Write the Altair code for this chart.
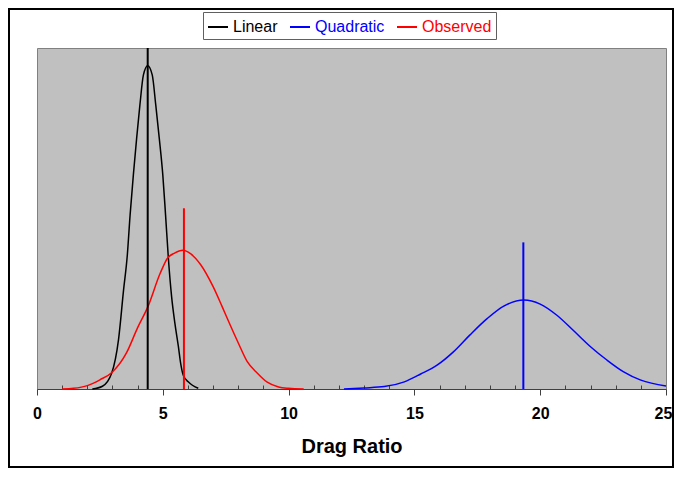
import altair as alt
import pandas as pd

series_names = ["Linear", "Quadratic", "Observed"]
series_colors = ["#000000", "#0000FF", "#FF0000"]

linear_x = [2.2, 2.6, 2.97, 3.24, 3.44, 3.59, 3.70, 3.83, 3.96, 4.09, 4.23, 4.40, 4.58, 4.72, 4.86, 5.0, 5.11, 5.22, 5.35, 5.48, 5.62, 5.71, 5.81, 6.01, 6.41]
linear_y = [0.0, 0.008, 0.047, 0.145, 0.29, 0.393, 0.51, 0.628, 0.735, 0.833, 0.921, 0.948, 0.921, 0.833, 0.735, 0.628, 0.51, 0.385, 0.271, 0.193, 0.124, 0.075, 0.041, 0.021, 0.002]

quadratic_x = [12.2, 13.0, 13.8, 14.6, 15.25, 15.9, 16.55, 17.2, 17.9, 18.55, 19.35, 20.0, 20.65, 21.3, 22.0, 22.65, 23.3, 24.0, 25.0]
quadratic_y = [0.0, 0.003, 0.007, 0.021, 0.044, 0.07, 0.109, 0.158, 0.207, 0.243, 0.261, 0.249, 0.217, 0.173, 0.124, 0.085, 0.051, 0.026, 0.009]

observed_x = [1.0, 1.45, 2.0, 2.5, 3.0, 3.55, 4.0, 4.4, 4.9, 5.2, 5.45, 5.8, 6.1, 6.5, 7.0, 7.35, 7.7, 8.0, 8.35, 8.75, 9.15, 9.6, 10.0, 10.6]
observed_y = [0.0, 0.002, 0.01, 0.027, 0.05, 0.105, 0.18, 0.24, 0.34, 0.385, 0.398, 0.407, 0.397, 0.365, 0.30, 0.243, 0.184, 0.135, 0.081, 0.047, 0.02, 0.006, 0.002, 0.0]

marker_x = [4.40, 19.33, 5.84]
marker_top = [1.0, 0.43, 0.53]

major_ticks = [0, 5, 10, 15, 20, 25]
minor_ticks = [v for v in range(1, 25) if v % 5 != 0]

curves = pd.concat([
    pd.DataFrame({"series": "Linear", "x": linear_x, "y": linear_y}),
    pd.DataFrame({"series": "Quadratic", "x": quadratic_x, "y": quadratic_y}),
    pd.DataFrame({"series": "Observed", "x": observed_x, "y": observed_y}),
], ignore_index=True)

markers = pd.DataFrame({"series": series_names, "x": marker_x, "top": marker_top})

xs = alt.Scale(domain=[0, 25], nice=False, zero=False)
ys = alt.Scale(domain=[0, 1], nice=False)

label_color_expr = ("datum.value == 'Linear' ? '#000000' : "
                    "(datum.value == 'Quadratic' ? '#0000FF' : '#FF0000')")

color = alt.Color(
    "series:N",
    scale=alt.Scale(domain=series_names, range=series_colors),
    legend=alt.Legend(
        orient="none", legendX=166, legendY=-36, direction="horizontal",
        title=None, symbolType="stroke", symbolSize=400, symbolStrokeWidth=1.5,
        labelFontSize=16, labelFont="Liberation Sans",
        labelColor={"expr": label_color_expr},
        fillColor="white", strokeColor="#606060", padding=4,
        columnPadding=8, labelOffset=4,
    ),
)

lines = alt.Chart(curves).mark_line(interpolate="monotone", strokeWidth=1.5).encode(
    x=alt.X("x:Q", scale=xs, axis=alt.Axis(
        values=major_ticks, orient="bottom", tickSize=6, tickColor="#404040",
        domainColor="#404040", labelFontSize=16, labelFontWeight="bold",
        labelColor="black", labelPadding=10, labelFlush=False, grid=False,
        labelOffset={"condition": {"test": "datum.value == 25", "value": -3}, "value": 0},
        title="Drag Ratio", titleFontSize=20, titleFontWeight="bold",
        titleColor="black", titlePadding=15)),
    y=alt.Y("y:Q", scale=ys, axis=None),
    color=color,
)

rules = alt.Chart(markers).mark_rule().encode(
    x=alt.X("x:Q", scale=xs, axis=alt.Axis(
        values=minor_ticks, orient="bottom", tickSize=4, offset=-4,
        domain=False, labels=False, title=None, grid=False, tickColor="#404040")),
    y=alt.Y("top:Q", scale=ys, axis=None),
    y2=alt.Y2Datum(0),
    color=color,
    strokeWidth=alt.StrokeWidth("series:N", scale=alt.Scale(domain=series_names, range=[2, 2, 3]), legend=None),
)

frame = alt.Chart(pd.DataFrame({"k": [0]})).mark_rect(
    filled=False, stroke="black", strokeWidth=2
).encode(x=alt.value(-28), x2=alt.value(636), y=alt.value(-39), y2=alt.value(419))

chart = alt.layer(lines, rules, frame).resolve_axis(x="independent").properties(
    width=629, height=341,
    autosize=alt.AutoSizeParams(type="none"),
    padding={"left": 29, "top": 40, "right": 8, "bottom": 81},
).configure(font="Liberation Sans", background="white").configure_view(
    fill="#C0C0C0", stroke="#808080", strokeWidth=1
)

chart.save("out.html", embed_options={"renderer": "svg", "actions": False})
